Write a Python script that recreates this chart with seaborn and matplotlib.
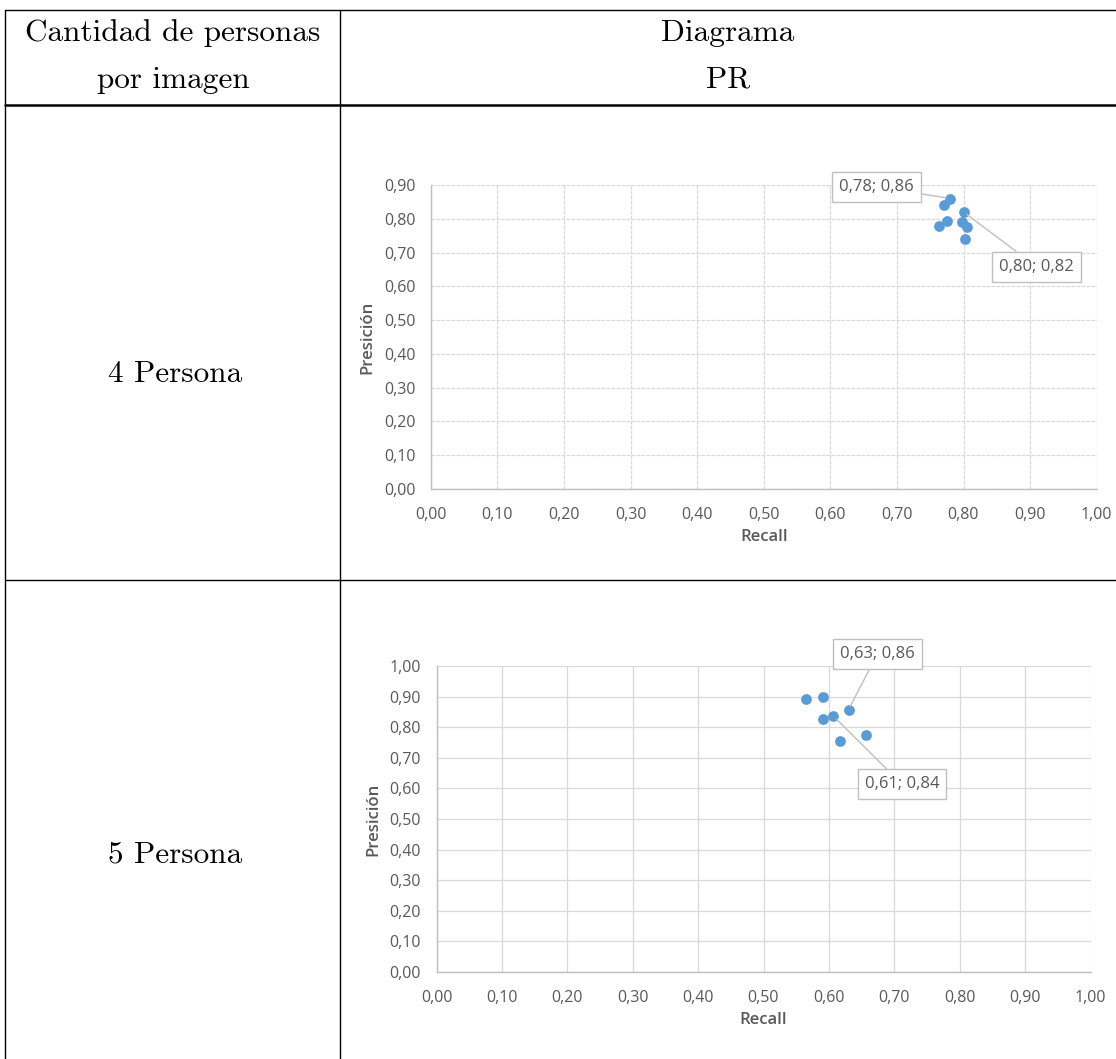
import numpy as np
import pandas as pd
import matplotlib
matplotlib.use("Agg")
import matplotlib.pyplot as plt
from matplotlib.lines import Line2D
from matplotlib.ticker import FuncFormatter, MultipleLocator
import seaborn as sns

recall_4 = [0.78, 0.771, 0.80, 0.775, 0.763, 0.797, 0.805, 0.803]
precision_4 = [0.86, 0.840, 0.82, 0.794, 0.778, 0.791, 0.777, 0.740]
recall_5 = [0.565, 0.591, 0.63, 0.591, 0.607, 0.617, 0.657]
precision_5 = [0.892, 0.900, 0.857, 0.828, 0.836, 0.756, 0.775]

filas = ["4 Persona", "5 Persona"]
encabezado_1 = ["Cantidad de personas", "por imagen"]
encabezado_2 = ["Diagrama", "PR"]
y_max = [0.90, 1.00]
# índice de los puntos que llevan etiqueta
etiquetados_4 = [0, 2]
etiquetados_5 = [2, 4]

W, H = 1116, 1059
sns.set_theme(style="white")
plt.rcParams["font.family"] = ["Open Sans", "DejaVu Sans"]

fig = plt.figure(figsize=(W / 100, H / 100), dpi=100)
fig.patch.set_facecolor("white")


def fx(px):
    return px / W


def fy(py):
    return 1 - py / H


# --- tabla ---
linea = dict(color="black", lw=1.0, transform=fig.transFigure)
fig.add_artist(Line2D([fx(5), 1], [fy(10), fy(10)], **linea))
fig.add_artist(Line2D([fx(5), 1], [fy(105), fy(105)], color="black", lw=1.8, transform=fig.transFigure))
fig.add_artist(Line2D([fx(5), 1], [fy(580), fy(580)], **linea))
fig.add_artist(Line2D([fx(5), fx(5)], [fy(10), 0], **linea))
fig.add_artist(Line2D([fx(340), fx(340)], [fy(10), 0], **linea))

cm = dict(family="cmr10", fontsize=22.5, color="black", ha="center", va="center")
fig.text(fx(173), fy(33), encabezado_1[0], **cm)
fig.text(fx(173), fy(80), encabezado_1[1], **cm)
fig.text(fx(728), fy(33), encabezado_2[0], **cm)
fig.text(fx(728), fy(80), encabezado_2[1], **cm)
fig.text(fx(175), fy(374), filas[0], **cm)
fig.text(fx(175), fy(855), filas[1], **cm)

# --- diagramas ---
gris = "#595959"
fmt = FuncFormatter(lambda v, p: f"{v:.2f}".replace(".", ","))


def diagrama(rect, rx, py, ymax, idx, posiciones, dashed):
    ax = fig.add_axes(rect)
    df = pd.DataFrame({"Recall": rx, "Presición": py})
    sns.scatterplot(data=df, x="Recall", y="Presición", ax=ax, color="#5b9bd5",
                    s=60, linewidth=0, zorder=3)
    ax.set_xlim(0, 1.0)
    ax.set_ylim(0, ymax)
    ax.xaxis.set_major_locator(MultipleLocator(0.1))
    ax.yaxis.set_major_locator(MultipleLocator(0.1))
    ax.xaxis.set_major_formatter(fmt)
    ax.yaxis.set_major_formatter(fmt)
    ls = (0, (3, 1)) if dashed else "-"
    ax.grid(True, color="#d9d9d9", lw=0.9, linestyle=ls)
    ax.set_axisbelow(True)
    for s in ["top", "right"]:
        ax.spines[s].set_visible(False)
    for s in ["left", "bottom"]:
        ax.spines[s].set_color("#bfbfbf")
        ax.spines[s].set_linewidth(1.0)
    ax.tick_params(axis="both", length=0, labelsize=11.5, colors=gris)
    ax.tick_params(axis="x", pad=13)
    ax.tick_params(axis="y", pad=11)
    ax.set_xlabel("Recall", fontsize=12, color=gris, fontweight="semibold", labelpad=4)
    ax.set_ylabel("Presición", fontsize=12, color=gris, fontweight="semibold", labelpad=6)
    for i, (tx, ty) in zip(idx, posiciones):
        texto = f"{rx[i]:.2f}; {py[i]:.2f}".replace(".", ",")
        ax.annotate(texto, xy=(rx[i], py[i]), xytext=(tx, ty), textcoords="data",
                    ha="center", va="center", fontsize=12, color=gris,
                    bbox=dict(boxstyle="square,pad=0.42", fc="white", ec="#bfbfbf", lw=1),
                    arrowprops=dict(arrowstyle="-", color="#bfbfbf", lw=1,
                                    shrinkA=0, shrinkB=3),
                    zorder=4)
    return ax


diagrama([fx(430.7), fy(489), 666 / W, 304 / H], recall_4, precision_4, y_max[0],
         etiquetados_4, [(0.669, 0.895), (0.910, 0.658)], dashed=True)
diagrama([fx(436.5), fy(972), 654 / W, 306 / H], recall_5, precision_5, y_max[1],
         etiquetados_5, [(0.674, 1.039), (0.712, 0.613)], dashed=False)

plt.savefig("out.png", dpi=100, facecolor="white")
